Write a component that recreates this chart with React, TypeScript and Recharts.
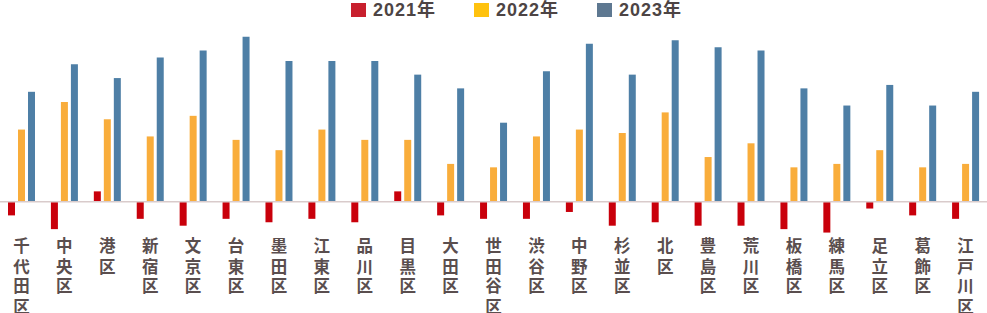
import React from 'react';
import { BarChart, Bar, XAxis, YAxis, ReferenceLine, Legend } from 'recharts';

const wards = ['千代田区','中央区','港区','新宿区','文京区','台東区','墨田区','江東区','品川区','目黒区','大田区','世田谷区','渋谷区','中野区','杉並区','北区','豊島区','荒川区','板橋区','練馬区','足立区','葛飾区','江戸川区'];
const y2021 = [-0.4,-0.8,0.3,-0.5,-0.7,-0.5,-0.6,-0.5,-0.6,0.3,-0.4,-0.5,-0.5,-0.3,-0.7,-0.6,-0.7,-0.7,-0.8,-0.9,-0.2,-0.4,-0.5];
const y2022 = [2.1,2.9,2.4,1.9,2.5,1.8,1.5,2.1,1.8,1.8,1.1,1.0,1.9,2.1,2.0,2.6,1.3,1.7,1.0,1.1,1.5,1.0,1.1];
const y2023 = [3.2,4.0,3.6,4.2,4.4,4.8,4.1,4.1,4.1,3.7,3.3,2.3,3.8,4.6,3.7,4.7,4.5,4.4,3.3,2.8,3.4,2.8,3.2];
const seriesNames = ['2021年','2022年','2023年'];

const data = wards.map((w, i) => ({ name: w, a: y2021[i], b: y2022[i], c: y2023[i] }));

const barColors = ['#c9000b', '#f9ad3b', '#4e7fa6'];
const legendColors = ['#c8202e', '#ffc20e', '#5e7891'];
const FONT = '"Noto Sans CJK JP", "Noto Sans", sans-serif';

const Tick = (props: any) => {
  const { x, y, payload } = props;
  const chars = String(payload.value).split('');
  const y0 = y - 6.5;
  return (
    <text
      x={x}
      y={y0}
      textAnchor="start"
      fill="#5a4e4e"
      fontSize={16.5}
      fontFamily={FONT}
      fontWeight={700}
      style={{ writingMode: 'vertical-rl', textOrientation: 'upright' } as any}
    >
      {chars.map((ch, i) => (
        <tspan key={i} x={x} y={y0 + i * 20}>{ch}</tspan>
      ))}
    </text>
  );
};

const LegendContent = () => (
  <div style={{ position: 'relative', width: 987, height: 22 }}>
    {seriesNames.map((n, i) => (
      <div key={n} style={{ position: 'absolute', left: 351 + i * 123, top: 1, display: 'flex', alignItems: 'center', height: 18, lineHeight: '18px' }}>
        <span style={{ display: 'inline-block', width: 15, height: 14, background: legendColors[i], marginRight: 7 }} />
        <span style={{ fontFamily: '"Liberation Sans", Arial, "Noto Sans CJK JP", sans-serif', fontWeight: 700, fontSize: 18, color: '#4d4444', letterSpacing: 1 }}>{n}</span>
      </div>
    ))}
  </div>
);

export default function App() {
  return (
    <div style={{ position: 'absolute', left: 0, top: 0, width: 987, height: 313, background: '#fff' }}>
      <BarChart width={987} height={313} data={data} margin={{ top: 30, right: 0, bottom: 0, left: 0 }} barSize={7} barGap={3}>
        <XAxis dataKey="name" axisLine={false} tickLine={false} height={77} interval={0} tick={<Tick />} />
        <YAxis hide domain={[-1, 5]} />
        <Legend verticalAlign="middle" align="center" layout="horizontal" wrapperStyle={{ top: 0, left: 0, width: 987 }} content={<LegendContent />} />
        <Bar dataKey="a" name={seriesNames[0]} fill={barColors[0]} isAnimationActive={false} />
        <Bar dataKey="b" name={seriesNames[1]} fill={barColors[1]} isAnimationActive={false} />
        <Bar dataKey="c" name={seriesNames[2]} fill={barColors[2]} isAnimationActive={false} />
        <ReferenceLine y={0} stroke="#d9cbcb" strokeWidth={1.5} />
      </BarChart>
    </div>
  );
}
